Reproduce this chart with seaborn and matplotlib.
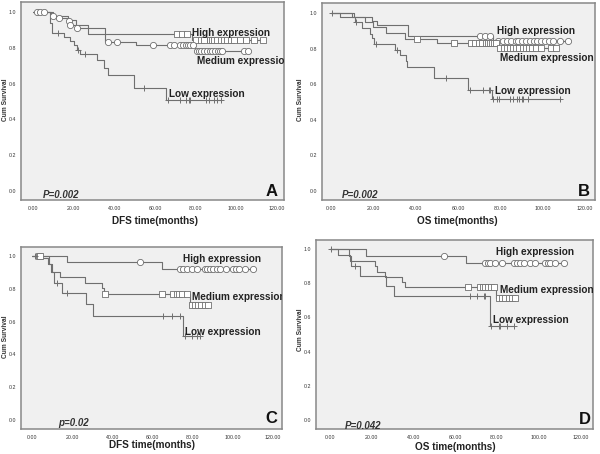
import numpy as np
import matplotlib
matplotlib.use('Agg')
import matplotlib.pyplot as plt
import seaborn as sns

sns.set_style('white')
plt.rcParams['font.family'] = ['Liberation Sans', 'DejaVu Sans']

# Panel A: DFS, all patients
a_high_t = [10, 17, 21, 27, 78]
a_high_s = [0.98, 0.955, 0.925, 0.877, 0.845]
a_high_c = [70.9, 73.4, 75.8, 80, 82.4, 84, 87, 88, 89, 90.6, 92.3, 94, 95.6, 97.2,
            98.9, 102, 105, 108.8, 113]
a_med_t = [9, 12, 17.5, 18, 21, 35.5, 50.5, 79.5]
a_med_s = [0.98, 0.965, 0.95, 0.93, 0.91, 0.834, 0.814, 0.78]
a_med_c = [2, 3.5, 5.5, 9.8, 12.5, 17.6, 18.3, 21.5, 37, 41.5, 58.8, 67.6, 69.2, 72.5,
           73.8, 75, 76.2, 77.4, 78.6, 80.5, 81.5, 82.5, 84, 85.5, 87, 88, 89.5, 91,
           92, 93, 104, 106]
a_low_t = [8.5, 9.3, 15, 18, 20, 21.5, 23, 31.4, 34.7, 36.7, 49.8, 65.5]
a_low_s = [0.94, 0.885, 0.862, 0.838, 0.814, 0.79, 0.767, 0.73, 0.687, 0.65, 0.578, 0.506]
a_low_c = [12.3, 21.9, 25.3, 54.8, 66.4, 72.5, 75, 76.6, 77.4, 84.9, 86.5, 89, 90.6, 92.6]

# Panel B: OS, all patients
b_high_t = [10, 19.5, 21.5, 36.5, 76.5]
b_high_s = [0.98, 0.955, 0.93, 0.873, 0.845]
b_high_c = [70.5, 72.5, 75, 79, 81, 83, 85, 87.5, 88.5, 90, 92, 94, 96, 97.5, 99, 101,
            103, 105, 108, 112]
b_med_t = [11, 16, 20, 26, 35, 50, 79]
b_med_s = [0.975, 0.95, 0.92, 0.886, 0.852, 0.833, 0.804]
b_med_c = [40.5, 58, 66, 68, 70, 71.5, 73, 74, 75, 76, 77, 78, 80, 81.5, 83, 84.5, 86,
           87.5, 89, 90.5, 92, 93.5, 95, 97, 99, 104, 106.5]
b_low_t = [4.3, 11.3, 14.5, 18.4, 19.2, 20.3, 30.2, 32.6, 35.4, 36, 48.8, 64.9, 76.2]
b_low_s = [0.975, 0.95, 0.916, 0.884, 0.86, 0.826, 0.794, 0.766, 0.729, 0.697, 0.636,
           0.57, 0.518]
b_low_c = [0.5, 12, 21, 31, 54.2, 65.7, 72, 74.5, 75.1, 76.7, 78.3, 79.4, 84.6, 86.1,
           87.7, 88.8, 90, 90.9, 93.2, 108.2]

# Panel C: DFS, subgroup
c_high_t = [17.4, 64.6]
c_high_s = [0.962, 0.92]
c_high_c = [53.8, 73.7, 75, 77, 79.5, 82, 86, 87.2, 88.6, 90.2, 91.9, 93.6, 96.5,
            100.2, 101.8, 103.1, 106, 110]
c_med_t = [5, 8.1, 9.8, 13.9, 26.4, 34.7, 36, 78.6]
c_med_s = [0.986, 0.95, 0.904, 0.87, 0.833, 0.803, 0.767, 0.70]
c_med_c = [3.5, 4.2, 36.4, 64.9, 70.4, 72, 73.2, 74.5, 77, 79.5, 81, 82.8, 84.4, 86, 87.7]
c_low_t = [8.3, 9.5, 11.1, 14.8, 26.9, 30.5, 75]
c_low_s = [0.95, 0.9, 0.833, 0.772, 0.705, 0.636, 0.51]
c_low_c = [1.5, 12.5, 17.4, 65.4, 69.5, 73.7, 76, 79.5, 82, 83.6]

# Panel D: OS, subgroup
d_high_t = [17.1, 65]
d_high_s = [0.96, 0.92]
d_high_c = [54.4, 74.4, 75.5, 76.8, 79.2, 82.4, 88, 89.6, 91.2, 92.8, 96, 98.4, 103.2,
            104.3, 105.6, 108, 112]
d_med_t = [4, 9.6, 21.6, 22.4, 26.4, 34.7, 36, 79.7]
d_med_s = [0.967, 0.933, 0.9, 0.867, 0.834, 0.805, 0.776, 0.716]
d_med_c = [66, 71.7, 73.3, 74.4, 75.5, 77, 78.7, 80.8, 82.4, 84, 85.6, 87.2, 88.8]
d_low_t = [9, 10, 14.4, 26.7, 30.7, 76.5]
d_low_s = [0.96, 0.9, 0.84, 0.785, 0.727, 0.55]
d_low_c = [0.5, 12, 67.2, 70.4, 73.6, 74.4, 77.3, 80.8, 81.6, 84.8, 88]

x_ticks = [0, 20, 40, 60, 80, 100, 120]
y_ticks = [0.0, 0.2, 0.4, 0.6, 0.8, 1.0]

LINE = '#6f6f6f'
BG = '#f0f0f0'
SPINE = '#888888'


def km_curve(ax, t, s, c, marker):
    t = np.asarray(t, float)
    s = np.asarray(s, float)
    c = np.asarray(c, float)
    end = max(t.max(), c.max())
    xs = np.concatenate([[0], t, [end]])
    ys = np.concatenate([[1.0], s, [s[-1]]])
    sns.lineplot(x=xs, y=ys, drawstyle='steps-post', estimator=None, sort=False,
                 color=LINE, lw=0.8, ax=ax)
    cy = np.concatenate([[1.0], s])[np.searchsorted(t, c, side='right')]
    if marker == '+':
        sns.scatterplot(x=c, y=cy, marker='+', s=20, color=LINE, linewidth=0.7,
                        ax=ax, zorder=3)
    else:
        sns.scatterplot(x=c, y=cy, marker=marker, s=20, color='white',
                        edgecolor=LINE, linewidth=0.6, ax=ax, zorder=3)


fig = plt.figure(figsize=(6, 4.54), dpi=100)
W, H = 600, 454


def make_ax(x0, x1, y0, y1, xlim, ylim):
    ax = fig.add_axes([x0 / W, 1 - y1 / H, (x1 - x0) / W, (y1 - y0) / H])
    ax.set_facecolor(BG)
    ax.set_xlim(*xlim)
    ax.set_ylim(*ylim)
    ax.set_xticks(x_ticks)
    ax.set_xticklabels(['%.2f' % v for v in x_ticks])
    ax.set_yticks(y_ticks)
    ax.set_yticklabels(['%.1f' % v for v in y_ticks])
    ax.tick_params(axis='both', direction='out', length=2, width=0.5, color='#555555',
                   labelsize=3.8, labelcolor='#333333', pad=1.5)
    ax.tick_params(axis='x', pad=2.2)
    for sp in ax.spines.values():
        sp.set_color(SPINE)
        sp.set_linewidth(1.1)
    ax.set_xlabel('')
    ax.set_ylabel('')
    return ax


panels = [
    dict(box=(21, 284, 2, 200), xlim=(-6, 123.5), ylim=(-0.05, 1.056),
         curves=[(a_high_t, a_high_s, a_high_c, 's'), (a_med_t, a_med_s, a_med_c, 'o'),
                 (a_low_t, a_low_s, a_low_c, '+')],
         xlabel='DFS time(months)', xl=(155, 221), yl=(6, 100),
         labels=[('High expression', 78.3, 0.885), ('Medium expression', 80.8, 0.726),
                 ('Low expression', 66.8, 0.54)],
         p=('P=0.002', 4.9, -0.024), letter=('A', 114.5, 0.0)),
    dict(box=(322, 595, 3, 200), xlim=(-4.3, 124.7), ylim=(-0.05, 1.056),
         curves=[(b_high_t, b_high_s, b_high_c, 'o'), (b_med_t, b_med_s, b_med_c, 's'),
                 (b_low_t, b_low_s, b_low_c, '+')],
         xlabel='OS time(months)', xl=(457, 221), yl=(300, 100),
         labels=[('High expression', 78.3, 0.897), ('Medium expression', 79.8, 0.75),
                 ('Low expression', 77.5, 0.56)],
         p=('P=0.002', 5, -0.02), letter=('B', 116.8, 0.0)),
    dict(box=(21, 282, 247, 429), xlim=(-5.5, 124.5), ylim=(-0.055, 1.055),
         curves=[(c_high_t, c_high_s, c_high_c, 'o'), (c_med_t, c_med_s, c_med_c, 's'),
                 (c_low_t, c_low_s, c_low_c, '+')],
         xlabel='DFS time(months)', xl=(152, 445), yl=(6, 337),
         labels=[('High expression', 75, 0.98), ('Medium expression', 79.5, 0.75),
                 ('Low expression', 76, 0.537)],
         p=('p=0.02', 13.2, -0.02), letter=('C', 116, 0.01)),
    dict(box=(316, 593, 240, 429), xlim=(-6.7, 126), ylim=(-0.053, 1.053),
         curves=[(d_high_t, d_high_s, d_high_c, 'o'), (d_med_t, d_med_s, d_med_c, 's'),
                 (d_low_t, d_low_s, d_low_c, '+')],
         xlabel='OS time(months)', xl=(455, 447), yl=(300, 330),
         labels=[('High expression', 79.7, 0.98), ('Medium expression', 81.3, 0.763),
                 ('Low expression', 78, 0.583)],
         p=('P=0.042', 7.2, -0.033), letter=('D', 119, 0.0)),
]

for pn in panels:
    x0, x1, y0, y1 = pn['box']
    ax = make_ax(x0, x1, y0, y1, pn['xlim'], pn['ylim'])
    for t, s, c, m in pn['curves']:
        km_curve(ax, t, s, c, m)
    for txt, tx, ty in pn['labels']:
        ax.text(tx, ty, txt, fontsize=7.2, fontweight='bold', color='#222222',
                va='center', ha='left', clip_on=True, zorder=5)
    ptxt, px, py = pn['p']
    ax.text(px, py, ptxt, fontsize=7, fontweight='bold', style='italic',
            color='#333333', va='center', ha='left')
    ltxt, lx, ly = pn['letter']
    ax.text(lx, ly, ltxt, fontsize=12, fontweight='bold', color='#111111',
            va='center', ha='left')
    fig.text(pn['xl'][0] / W, 1 - pn['xl'][1] / H, pn['xlabel'], fontsize=7.2,
             fontweight='bold', color='#222222', ha='center', va='center')
    fig.text(pn['yl'][0] / W, 1 - pn['yl'][1] / H, 'Cum Survival', fontsize=4.8,
             fontweight='bold', color='#333333', rotation=90, ha='center', va='center')

fig.savefig('out.png', dpi=100)
